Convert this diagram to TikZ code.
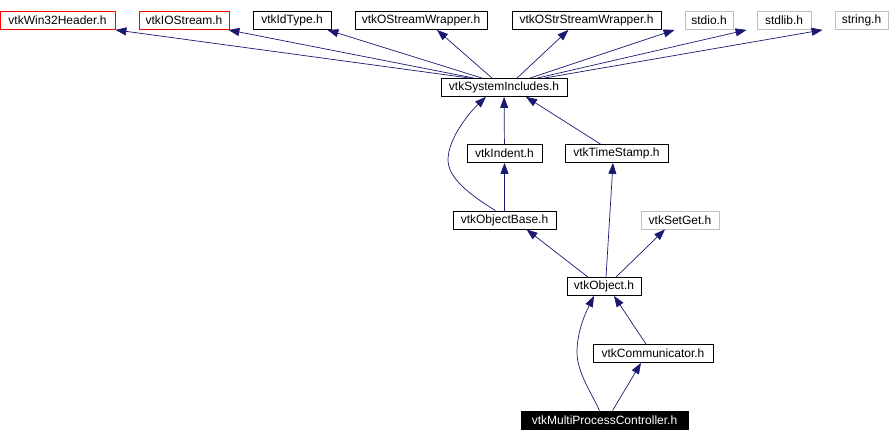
\documentclass[tikz,border=0pt]{standalone}
\usepackage{fontspec}
\setmainfont{Liberation Sans}
\usetikzlibrary{arrows.meta}
\definecolor{navyline}{RGB}{25,25,112}
\definecolor{lightframe}{RGB}{191,191,191}
\begin{document}
\begin{tikzpicture}[
    x=1pt, y=-1pt,
    filenode/.style={rectangle, draw=black, fill=white, line width=0.8pt, minimum height=18pt, inner sep=0pt, font=\fontsize{12}{14}\selectfont},
    incl/.style={-{Triangle[length=11pt, width=8pt]}, draw=navyline, line width=0.7pt}
]
    \useasboundingbox (0,0) rectangle (890,442);

    % Nodes
    \node[filenode, draw=red, minimum width=115pt] (win) at (57.5,20.5) {vtkWin32Header.h};
    \node[filenode, draw=red, minimum width=90pt] (ios) at (184,20.5) {vtkIOStream.h};
    \node[filenode, minimum width=78pt] (idt) at (292,20.5) {vtkIdType.h};
    \node[filenode, minimum width=132pt] (osw) at (421,20.5) {vtkOStreamWrapper.h};
    \node[filenode, minimum width=149pt] (ostr) at (586.5,20.5) {vtkOStrStreamWrapper.h};
    \node[filenode, draw=lightframe, minimum width=48pt] (stdio) at (709,20.5) {stdio.h};
    \node[filenode, draw=lightframe, minimum width=54pt] (stdlib) at (784,20.5) {stdlib.h};
    \node[filenode, draw=lightframe, minimum width=53pt] (string) at (861.5,20.5) {string.h};

    \node[filenode, minimum width=126pt] (sys) at (504,87.5) {vtkSystemIncludes.h};
    \node[filenode, minimum width=75pt] (ind) at (504.5,153.5) {vtkIndent.h};
    \node[filenode, minimum width=103pt] (ts) at (616.5,153.5) {vtkTimeStamp.h};
    \node[filenode, minimum width=103pt] (ob) at (504.5,220) {vtkObjectBase.h};
    \node[filenode, draw=lightframe, minimum width=78pt] (sg) at (680,220) {vtkSetGet.h};
    \node[filenode, minimum width=74pt] (obj) at (604,286.5) {vtkObject.h};
    \node[filenode, minimum width=120pt] (comm) at (653,353.5) {vtkCommunicator.h};
    \node[filenode, fill=black, text=white, minimum width=167pt] (mpc) at (604.5,420) {vtkMultiProcessController.h};

    % Edges (child to included file)
    \draw[incl] ([xshift=-34pt]sys.north) -- (win.south east);
    \draw[incl] ([xshift=-30pt]sys.north) -- ([xshift=-1pt]ios.south east);
    \draw[incl] ([xshift=-22pt]sys.north) -- ([xshift=-4pt]idt.south east);
    \draw[incl] ([xshift=-12pt]sys.north) -- ([xshift=16pt]osw.south);
    \draw[incl] ([xshift=13pt]sys.north) -- ([xshift=-18pt]ostr.south);
    \draw[incl] ([xshift=26pt]sys.north) -- ([xshift=-10pt]stdio.south west);
    \draw[incl] ([xshift=33pt]sys.north) -- ([xshift=-10pt]stdlib.south west);
    \draw[incl] ([xshift=40pt]sys.north) -- ([xshift=-12pt]string.south west);

    \draw[incl] (ind) -- (sys);
    \draw[incl] ([xshift=-16pt]ts.north) -- ([xshift=22pt]sys.south);
    \draw[incl] ([xshift=-9pt]ob.north) .. controls (470,195) and (448,178) .. (448,160)
        .. controls (448,138) and (470,112) .. ([xshift=-18pt]sys.south);
    \draw[incl] (ob) -- (ind);

    \draw[incl] ([xshift=-16pt]obj.north) -- ([xshift=22pt]ob.south);
    \draw[incl] ([xshift=2pt]obj.north) -- ([xshift=-3.5pt]ts.south);
    \draw[incl] ([xshift=12pt]obj.north) -- ([xshift=-15pt]sg.south);

    \draw[incl] ([xshift=-7pt]comm.north) -- ([xshift=10pt]obj.south);
    \draw[incl] ([xshift=8pt]mpc.north) -- ([xshift=-12pt]comm.south);
    \draw[incl] ([xshift=-5pt]mpc.north) .. controls (590,390) and (577,372) .. (577,352)
        .. controls (577,332) and (585,314) .. ([xshift=-10pt]obj.south);

\end{tikzpicture}
\end{document}
